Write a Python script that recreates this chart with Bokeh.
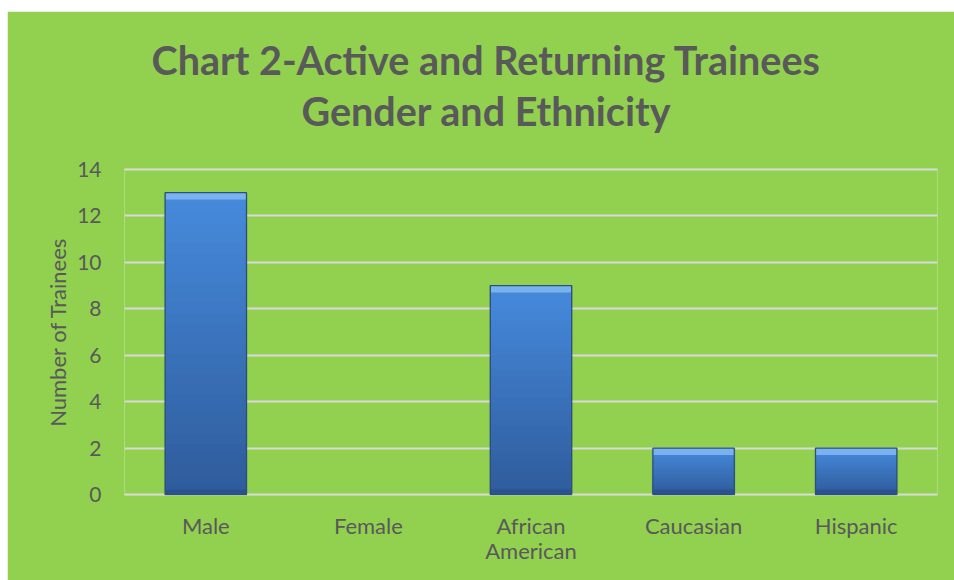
from bokeh.plotting import figure
from bokeh.models import ColumnDataSource, Title, FixedTicker, Range1d
from bokeh.embed import file_html
from bokeh.resources import INLINE

categories = ["Male", "Female", "African American", "Caucasian", "Hispanic"]
tick_labels = ["Male", "Female", "African\nAmerican", "Caucasian", "Hispanic"]
trainees = [13, 0, 9, 2, 2]
y_ticks = [0, 2, 4, 6, 8, 10, 12, 14]
title_lines = ["Chart 2-Active and Returning Trainees", "Gender and Ethnicity"]
y_label = "Number of Trainees"

GREEN = "#92D050"
TEXT = "#595959"
GRID = "#D9D9D9"
FONT = "Lato"
FS = "22px"

xpos = list(range(len(categories)))

p = figure(x_range=Range1d(-0.5, len(categories) - 0.5), y_range=Range1d(-0.04, 14.04),
           width=947, height=569, output_backend="svg", toolbar_location=None,
           min_border_left=117, min_border_right=17, min_border_top=157, min_border_bottom=85)
p.margin = (11, 0, 0, 7)
p.background_fill_color = GREEN
p.border_fill_color = GREEN
p.outline_line_color = None

p.xgrid.grid_line_color = None
p.ygrid.grid_line_color = GRID
p.ygrid.grid_line_width = 2

p.yaxis.ticker = FixedTicker(ticks=y_ticks)
p.yaxis.axis_line_color = None
p.yaxis.major_tick_line_color = None
p.yaxis.minor_tick_line_color = None
p.yaxis.major_label_text_font = FONT
p.yaxis.major_label_text_font_size = "21px"
p.yaxis.major_label_text_color = TEXT
p.yaxis.major_label_standoff = 17
p.yaxis.axis_label = y_label
p.yaxis.axis_label_text_font = FONT
p.yaxis.axis_label_text_font_size = FS
p.yaxis.axis_label_text_font_style = "normal"
p.yaxis.axis_label_text_color = TEXT
p.yaxis.axis_label_standoff = 3

p.xaxis.ticker = FixedTicker(ticks=xpos)
p.xaxis.major_label_overrides = {i: lab for i, lab in zip(xpos, tick_labels)}
p.xaxis.axis_line_color = None
p.xaxis.major_tick_line_color = None
p.xaxis.minor_tick_line_color = None
p.xaxis.major_label_text_font = FONT
p.xaxis.major_label_text_font_size = FS
p.xaxis.major_label_text_color = TEXT
p.xaxis.major_label_text_line_height = 0.95
p.xaxis.major_label_standoff = 10

# bars: shadow, vertical gradient, bevels, outline
visible = [1.0 if v > 0 else 0.0 for v in trainees]
src = ColumnDataSource(dict(x=xpos, top=trainees, vis=visible,
                            bevel=[v - 0.3 if v > 0 else 0 for v in trainees],
                            low=[0.22 if v > 0 else 0 for v in trainees]))
p.vbar(x="x", top="top", width=0.515, source=src, fill_color="black", fill_alpha=0.12,
       line_color=None)

c_top = (0x46, 0x8A, 0xDC)
c_bot = (0x2F, 0x5C, 0x9C)
N = 30
for k in range(N):
    f = 1 - k / N
    t = k / (N - 1)
    col = "#%02x%02x%02x" % tuple(int(round(a + (b - a) * t)) for a, b in zip(c_top, c_bot))
    p.vbar(x=xpos, top=[v * f for v in trainees], width=0.5, fill_color=col, line_color=None)

p.vbar(x="x", bottom="bevel", top="top", width=0.5, source=src, fill_color="#78B3F0",
       fill_alpha="vis", line_color=None)
p.vbar(x="x", bottom=0, top="low", width=0.5, source=src, fill_color="#2A5190",
       fill_alpha="vis", line_color=None)
p.vbar(x="x", top="top", width=0.5, source=src, fill_color=None, line_color="#2A4F82",
       line_width=1.2, line_alpha="vis")

# two title lines (inner line first)
offsets = [27, 177]
standoffs = [-66, 70]
for i in (1, 0):
    p.add_layout(Title(text=title_lines[i], align="left", offset=offsets[i],
                       standoff=standoffs[i], text_font=FONT, text_font_style="bold",
                       text_font_size="39.5px", text_color=TEXT), "above")

open("out.html", "w").write(file_html(p, INLINE))
